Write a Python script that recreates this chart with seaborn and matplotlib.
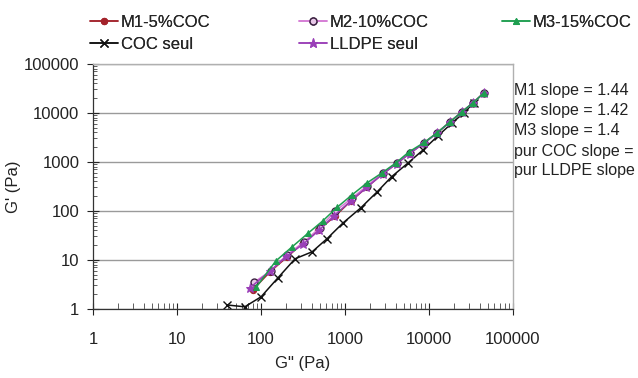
import numpy as np
import pandas as pd
import seaborn as sns
import matplotlib.pyplot as plt
from matplotlib.ticker import LogLocator, NullFormatter, FixedLocator

# G'' (x) and G' (y) in Pa
m1_x = [80, 128, 205, 315, 480, 760, 1180, 1810, 2800, 4130, 5900, 8700, 12450, 17800, 24700, 33400, 45100]
m1_y = [2.45, 5.7, 11.5, 22, 40, 78, 160, 300, 570, 930, 1500, 2420, 3900, 6550, 10500, 16000, 25600]

m2_x = [83, 131, 203, 325, 500, 760, 1200, 1830, 2830, 4160, 5940, 8710, 12450, 17800, 24700, 33400, 45100]
m2_y = [3.5, 6.0, 12.6, 23.3, 45, 98, 180, 324, 597, 956, 1520, 2440, 3900, 6550, 10500, 16000, 25600]

m3_x = [88, 150, 235, 363, 547, 804, 1211, 1828, 2760, 4050, 5780, 8800, 12450, 17800, 24700, 33400, 45100]
m3_y = [2.8, 9.5, 18.5, 35, 63, 118, 212, 372, 597, 956, 1600, 2500, 3900, 6550, 10500, 16000, 25600]

coc_x = [39, 64, 100, 159, 254, 406, 610, 950, 1540, 2410, 3600, 5650, 8500, 12800, 19000, 26000, 34000]
coc_y = [1.2, 1.1, 1.76, 4.3, 10.5, 14.6, 27, 57, 115, 244, 500, 955, 1750, 3400, 6300, 10000, 16000]

lldpe_x = [74, 128, 200, 318, 490, 740, 1180, 1800, 2800, 4130, 5900, 8700, 12450, 17800, 24700, 33400, 45100]
lldpe_y = [2.7, 5.9, 11.8, 21, 40, 80, 160, 300, 560, 920, 1480, 2400, 3850, 6500, 10500, 16000, 25600]

decades = [1, 10, 100, 1000, 10000, 100000]
decade_labels = ["1", "10", "100", "1000", "10000", "100000"]

slope_notes = ["M1 slope = 1.44", "M2 slope = 1.42", "M3 slope = 1.4",
               "pur COC slope =", "pur LLDPE slope"]

sns.set_style("white")
plt.rcParams['font.family'] = ['Liberation Sans', 'DejaVu Sans']

fig = plt.figure(figsize=(6.38, 3.78), dpi=100)
ax = fig.add_axes([0.146, 0.183, 0.658, 0.648])

series = {
    "M1-5%COC": (m1_x, m1_y, dict(color="#A3232B", marker="o", markersize=4.5,
                                  markeredgecolor="#A3232B", markerfacecolor="#A3232B")),
    "COC seul": (coc_x, coc_y, dict(color="#111111", marker="x", markersize=5.5,
                                   markeredgecolor="#111111", markeredgewidth=1.0)),
    "M2-10%COC": (m2_x, m2_y, dict(color="#D47AD4", marker="o", markersize=5,
                                   markeredgecolor="#3A2040", markerfacecolor="#E8C8E8",
                                   markeredgewidth=1.0)),
    "LLDPE seul": (lldpe_x, lldpe_y, dict(color="#9A3FB8", marker="*", markersize=6.5,
                                        markeredgecolor="#9A3FB8", markerfacecolor="#9A3FB8")),
    "M3-15%COC": (m3_x, m3_y, dict(color="#1E9E50", marker="^", markersize=5,
                                   markeredgecolor="#1E9E50", markerfacecolor="#1E9E50")),
}

for name, (xs, ys, kw) in series.items():
    sns.lineplot(x=xs, y=ys, ax=ax, sort=False, label=name, linewidth=1.1, **kw)

ax.set_xscale("log")
ax.set_yscale("log")
ax.set_xlim(1, 100000)
ax.set_ylim(1, 100000)

ax.xaxis.set_major_locator(FixedLocator(decades))
ax.yaxis.set_major_locator(FixedLocator(decades))
ax.set_xticklabels(decade_labels)
ax.set_yticklabels(decade_labels)
ax.xaxis.set_minor_locator(LogLocator(base=10, subs=np.arange(2, 10), numticks=20))
ax.yaxis.set_minor_locator(LogLocator(base=10, subs=np.arange(2, 10), numticks=20))
ax.xaxis.set_minor_formatter(NullFormatter())
ax.yaxis.set_minor_formatter(NullFormatter())

ax.tick_params(axis="x", which="major", direction="inout", length=8, width=0.8,
               pad=13, labelsize=12, colors="#222222", bottom=True)
ax.tick_params(axis="x", which="minor", direction="in", length=4, width=0.6,
               colors="#444444", bottom=True)
ax.tick_params(axis="y", which="major", direction="inout", length=8, width=0.8,
               pad=6, labelsize=12, colors="#222222", left=True)
ax.tick_params(axis="y", which="minor", direction="in", length=3, width=0.6,
               colors="#444444", left=True)

ax.grid(True, axis="y", which="major", color="#9A9A9A", linewidth=1.0)
ax.set_axisbelow(True)
for side in ["top", "right"]:
    ax.spines[side].set_color("#B0B0B0")
    ax.spines[side].set_linewidth(1.0)
for side in ["left", "bottom"]:
    ax.spines[side].set_color("#333333")
    ax.spines[side].set_linewidth(0.9)

ax.set_xlabel('G" (Pa)', fontsize=12, labelpad=6, color="#222222")
ax.set_ylabel("G' (Pa)", fontsize=12, labelpad=2, color="#222222")

# legend laid out as three separate columns, like the reference
handles, labels = ax.get_legend_handles_labels()
lookup = dict(zip(labels, handles))
ax.get_legend().remove()
columns = [(["M1-5%COC", "COC seul"], 90), (["M2-10%COC", "LLDPE seul"], 299),
           (["M3-15%COC"], 502)]
for names, left_px in columns:
    leg = fig.legend([lookup[n] for n in names], names, loc="upper left",
                     bbox_to_anchor=(left_px / 638, 1 - 15 / 378), frameon=False,
                     fontsize=12, handlelength=1.7, handletextpad=0.15,
                     labelspacing=0.4, borderpad=0, borderaxespad=0)
    fig.add_artist(leg)

for i, note in enumerate(slope_notes):
    fig.text(0.806, 1 - (91 + 20 * i) / 378, note, fontsize=11.5, va="center",
             ha="left", color="#222222")

fig.savefig("out.png", dpi=100)
